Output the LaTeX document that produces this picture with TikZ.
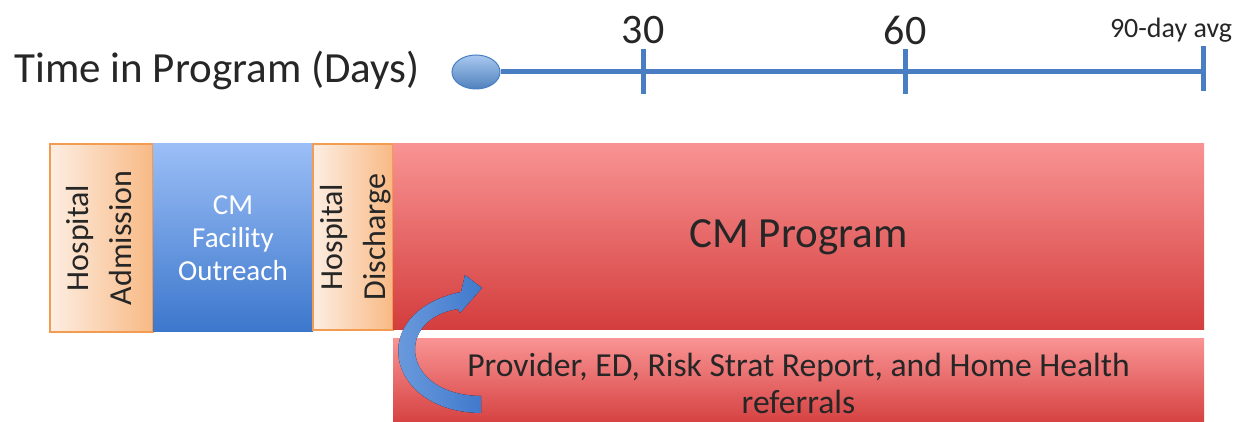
\documentclass[tikz,border=0pt]{standalone}
\usepackage{fontspec}
\setmainfont{Carlito}
\usepackage{graphicx}
\usetikzlibrary{shapes.geometric}
\definecolor{ink}{HTML}{262626}
\definecolor{tline}{HTML}{4A7EC2}
\definecolor{dotT}{HTML}{A9C8F0}
\definecolor{dotB}{HTML}{4F81BD}
\definecolor{peachL}{HTML}{FDEEE2}
\definecolor{peachR}{HTML}{F8B984}
\definecolor{peachD}{HTML}{F29B51}
\definecolor{blueT}{HTML}{9BBEF6}
\definecolor{blueB}{HTML}{3C77CC}
\definecolor{redT}{HTML}{F99393}
\definecolor{redB}{HTML}{D43D3D}
\definecolor{arrL}{HTML}{7AA6E2}
\definecolor{arrR}{HTML}{4079CC}
\begin{document}
\begin{tikzpicture}[x=0.5pt,y=-0.5pt,
	tick/.style={tline,line width=2.5pt},
	box/.style={anchor=north west,inner sep=0pt,outer sep=0pt,align=center,text=ink},
	peach/.style={box,draw=peachD,line width=0.75pt,left color=peachL,right color=peachR,minimum height=94pt,font=\fontsize{16}{21.5}\selectfont},
	bluebox/.style={box,top color=blueT,bottom color=blueB,text=white,minimum height=94pt,font=\fontsize{14.5}{16.5}\selectfont},
	redbox/.style={box,top color=redT,bottom color=redB,minimum width=405.5pt,font=\fontsize{16.8}{18.5}\selectfont}]
		\useasboundingbox (0,0) rectangle (1244,422);
		\clip (0,0) rectangle (1244,422);
		\node[font=\fontsize{21.5}{26}\selectfont,text=ink] (title) at (217,70) {Time in Program (Days)};
		\node[ellipse,draw=tline,line width=0.5pt,top color=dotT,bottom color=dotB,minimum width=24pt,minimum height=17pt,inner sep=0pt] (start) at (476,72) {};
		\coordinate (end) at (1203,72);
		\draw[tline,line width=2.5pt] (start.east)--(end);
		\foreach \x/\lab in {643/30,905/60}{
			\draw[tick] (\x,49)--(\x,94);
			\node[font=\fontsize{21}{25}\selectfont,text=ink] (l\lab) at (\x,30) {\lab};}
		\draw[tick] (1203,46)--(1203,91);
		\node[font=\fontsize{14}{17}\selectfont,text=ink] (l90) at (1171,30) {90-day avg};
		\node[peach,minimum width=51.5pt] (adm) at (50,144) {\makebox[0pt]{\rotatebox{90}{\begin{tabular}{@{}c@{}}Hospital\\Admission\end{tabular}}}};
		\node[bluebox,minimum width=80pt] (cmf) at (153,144) {CM\\Facility\\Outreach};
		\node[peach,minimum width=40pt,minimum height=93pt] (dis) at (313,144) {\makebox[0pt]{\hspace{2pt}\rotatebox{90}{\begin{tabular}{@{}c@{}}Hospital\\Discharge\end{tabular}}}};
		\node[redbox,minimum height=93pt,font=\fontsize{21.5}{26}\selectfont] (prog) at (393,144) {CM Program};
		\node[redbox,minimum height=44pt] (ref) at (393,339) {Provider, ED, Risk Strat Report, and Home Health\\referrals};
		\fill[left color=arrL,right color=arrR] (481,413) .. controls (385,412) and (365,312) .. (461,292) -- (465,275) -- (482,288) -- (460,313) -- (458,309) .. controls (395,318) and (400,395) .. (481,396) -- cycle;
\end{tikzpicture}
\end{document}
